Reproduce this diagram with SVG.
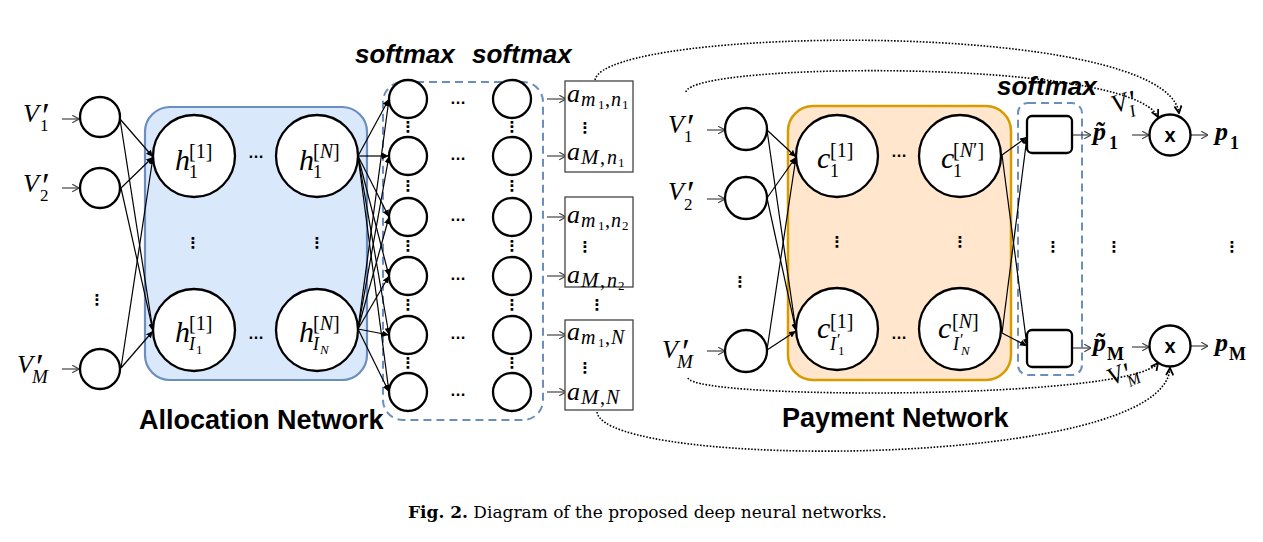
<svg xmlns="http://www.w3.org/2000/svg" width="1263" height="542" viewBox="0 0 1263 542">
<style>
.node{fill:#fff;stroke:#000;stroke-width:2.3}
.sq{fill:#fff;stroke:#000;stroke-width:2.3}
.abox{fill:#fff;stroke:#444;stroke-width:1.3}
.conn{stroke:#000;stroke-width:1.2;fill:none;marker-end:url(#arr)}
.garr{stroke:#444;stroke-width:1.2;fill:none;marker-end:url(#gar)}
.dot{stroke:#000;stroke-width:1.6;stroke-dasharray:1.6 1.6;fill:none;marker-end:url(#dar)}
.dash{fill:none;stroke:#6c8ebf;stroke-width:2;stroke-dasharray:8 5}
.mi{font-family:"Liberation Serif","Times New Roman",serif;font-style:italic}
.mr{font-family:"Liberation Serif","Times New Roman",serif;font-style:normal}
.pr{font-family:"Liberation Serif","Times New Roman",serif;font-style:normal;font-size:36px}
.bi{font-family:"Liberation Serif","Times New Roman",serif;font-style:italic;font-weight:bold}
.br{font-family:"Liberation Serif","Times New Roman",serif;font-style:normal;font-weight:bold}
.lbl{font-family:"Liberation Sans",Arial,sans-serif;font-weight:bold;font-size:27px}
.sm{font-family:"Liberation Sans",Arial,sans-serif;font-weight:bold;font-style:italic;font-size:26px}
.hd{font-family:"Liberation Sans",Arial,sans-serif;font-weight:bold;font-size:16px;text-anchor:middle}
.vd{font-family:"DejaVu Sans",sans-serif;font-weight:bold;font-size:15px;text-anchor:middle}
.mul{font-family:"Liberation Sans",Arial,sans-serif;font-weight:bold;font-size:20px;text-anchor:middle}
</style>
<defs>
<marker id="arr" viewBox="0 0 10 10" refX="10" refY="5" markerWidth="7" markerHeight="7" markerUnits="userSpaceOnUse" orient="auto"><path d="M0,0.5 L10,5 L0,9.5 Z" fill="#000"/></marker>
<marker id="gar" viewBox="0 0 10 10" refX="9.5" refY="5" markerWidth="9" markerHeight="9" markerUnits="userSpaceOnUse" orient="auto"><path d="M2,0.8 L9.5,5 L2,9.2" fill="none" stroke="#444" stroke-width="1.3"/></marker>
<marker id="dar" viewBox="0 0 10 10" refX="9" refY="5" markerWidth="9" markerHeight="9" markerUnits="userSpaceOnUse" orient="auto"><path d="M1,1 L9,5 L1,9" fill="none" stroke="#000" stroke-width="2"/></marker>
</defs>
<rect x="0" y="0" width="1263" height="542" fill="#fff"/>

<!-- containers -->
<g id="allocation-network">
<rect x="145" y="107" width="222" height="273" rx="25" fill="#dae8fc" stroke="#6c8ebf" stroke-width="2.2"/>
<text class="lbl" x="139" y="429">Allocation Network</text>
</g>
<g id="payment-network">
<rect x="788" y="106" width="223" height="274" rx="25" fill="#ffe6cc" stroke="#d79b00" stroke-width="2.5"/>
<text class="lbl" x="782" y="427">Payment Network</text>
</g>
<g id="softmax-alloc">
<rect class="dash" x="383" y="82" width="160" height="338" rx="20"/>
<text class="sm" x="355" y="63">softmax</text>
<text class="sm" x="472" y="63">softmax</text>
</g>
<g id="softmax-pay">
<rect class="dash" x="1018" y="103" width="64" height="272" rx="10"/>
<text class="sm" x="997" y="95">softmax</text>
</g>

<!-- connectors -->
<g id="connectors">
<line class="garr" x1="62" y1="119" x2="79" y2="119"/>
<line class="garr" x1="62" y1="188" x2="79" y2="188"/>
<line class="garr" x1="62" y1="369" x2="79" y2="369"/>
<line class="conn" x1="120" y1="119" x2="153" y2="157"/>
<line class="conn" x1="120" y1="119" x2="153" y2="331"/>
<line class="conn" x1="121" y1="188" x2="153" y2="157"/>
<line class="conn" x1="121" y1="188" x2="153" y2="331"/>
<line class="conn" x1="121" y1="368" x2="153" y2="157"/>
<line class="conn" x1="121" y1="368" x2="153" y2="331"/>
<line class="conn" x1="358" y1="156" x2="389" y2="99"/>
<line class="conn" x1="358" y1="156" x2="389" y2="156"/>
<line class="conn" x1="358" y1="156" x2="389" y2="217"/>
<line class="conn" x1="358" y1="156" x2="389" y2="276"/>
<line class="conn" x1="358" y1="156" x2="389" y2="335"/>
<line class="conn" x1="358" y1="156" x2="389" y2="392"/>
<line class="conn" x1="358" y1="329" x2="389" y2="99"/>
<line class="conn" x1="358" y1="329" x2="389" y2="156"/>
<line class="conn" x1="358" y1="329" x2="389" y2="217"/>
<line class="conn" x1="358" y1="329" x2="389" y2="276"/>
<line class="conn" x1="358" y1="329" x2="389" y2="335"/>
<line class="conn" x1="358" y1="329" x2="389" y2="392"/>
<line class="garr" x1="547" y1="99" x2="566" y2="99"/>
<line class="garr" x1="547" y1="156" x2="566" y2="156"/>
<line class="garr" x1="547" y1="217" x2="566" y2="217"/>
<line class="garr" x1="547" y1="276" x2="566" y2="276"/>
<line class="garr" x1="547" y1="335" x2="566" y2="335"/>
<line class="garr" x1="547" y1="392" x2="566" y2="392"/>
<line class="garr" x1="707" y1="130" x2="725" y2="130"/>
<line class="garr" x1="707" y1="199" x2="725" y2="199"/>
<line class="garr" x1="707" y1="351" x2="725" y2="351"/>
<line class="conn" x1="767" y1="130" x2="796" y2="157"/>
<line class="conn" x1="767" y1="130" x2="796" y2="331"/>
<line class="conn" x1="767" y1="198" x2="796" y2="157"/>
<line class="conn" x1="767" y1="198" x2="796" y2="331"/>
<line class="conn" x1="767" y1="350" x2="796" y2="157"/>
<line class="conn" x1="767" y1="350" x2="796" y2="331"/>
<line class="conn" x1="1002" y1="155" x2="1027" y2="137"/>
<line class="conn" x1="1002" y1="155" x2="1027" y2="346"/>
<line class="conn" x1="1002" y1="333" x2="1027" y2="137"/>
<line class="conn" x1="1002" y1="333" x2="1027" y2="346"/>
<line class="garr" x1="1072" y1="135" x2="1091" y2="135"/>
<line class="garr" x1="1072" y1="348" x2="1091" y2="348"/>
<line class="garr" x1="1132" y1="135" x2="1149" y2="135"/>
<line class="garr" x1="1132" y1="347" x2="1149" y2="347"/>
<line class="garr" x1="1191" y1="135" x2="1208" y2="135"/>
<line class="garr" x1="1191" y1="346" x2="1208" y2="346"/>
<path class="dot" d="M595,80 C605,26 1165,18 1179,113"/>
<path class="dot" d="M686,92 C690,62 1130,58 1158,117"/>
<path class="dot" d="M688,378 C695,400 1130,400 1158,363"/>
<path class="dot" d="M597,412 C605,470 1165,470 1170,368"/>
</g>

<!-- allocation inputs -->
<g id="in-a1">
<circle class="node" cx="100" cy="117" r="20"/>
<text class="mi" font-size="26"><tspan x="23" y="122">V</tspan><tspan x="42" y="128" class="pr">′</tspan><tspan x="40" y="131" class="mr" font-size="17">1</tspan></text>
</g>
<g id="in-a2">
<circle class="node" cx="100" cy="188" r="20"/>
<text class="mi" font-size="26"><tspan x="23" y="192">V</tspan><tspan x="42" y="198" class="pr">′</tspan><tspan x="40" y="201" class="mr" font-size="17">2</tspan></text>
</g>
<text class="vd" x="97" y="305">⋮</text>
<g id="in-aM">
<circle class="node" cx="100" cy="369" r="20"/>
<text class="mi" font-size="26"><tspan x="17" y="373">V</tspan><tspan x="36" y="379" class="pr">′</tspan><tspan x="32" y="383" font-size="19">M</tspan></text>
</g>

<!-- hidden allocation nodes -->
<g id="h-1-1">
<circle class="node" cx="194" cy="156" r="41"/>
<text class="mr"><tspan class="mi" x="175" y="170" font-size="30">h</tspan><tspan x="189" y="158" font-size="20">[1]</tspan><tspan x="189" y="178" font-size="18">1</tspan></text>
</g>
<g id="h-1-N">
<circle class="node" cx="317" cy="156" r="41"/>
<text class="mr"><tspan class="mi" x="299" y="170" font-size="30">h</tspan><tspan x="313" y="158" font-size="20">[<tspan class="mi">N</tspan>]</tspan><tspan x="313" y="178" font-size="18">1</tspan></text>
</g>
<g id="h-I-1">
<circle class="node" cx="194" cy="330" r="41"/>
<text class="mr"><tspan class="mi" x="175" y="342" font-size="30">h</tspan><tspan x="189" y="330" font-size="20">[1]</tspan><tspan class="mi" x="189" y="350" font-size="18">I</tspan><tspan x="196" y="354" font-size="13">1</tspan></text>
</g>
<g id="h-I-N">
<circle class="node" cx="317" cy="330" r="41"/>
<text class="mr"><tspan class="mi" x="299" y="342" font-size="30">h</tspan><tspan x="313" y="330" font-size="20">[<tspan class="mi">N</tspan>]</tspan><tspan class="mi" x="313" y="350" font-size="18">I</tspan><tspan class="mi" x="320" y="354" font-size="13">N</tspan></text>
</g>
<text class="hd" x="256" y="158">…</text>
<text class="hd" x="256" y="339">…</text>
<text class="vd" x="193" y="248">⋮</text>
<text class="vd" x="317" y="248">⋮</text>

<!-- softmax columns -->
<g id="sm-col1">
<circle class="node" cx="408" cy="99" r="19"/>
<circle class="node" cx="408" cy="156" r="19"/>
<circle class="node" cx="408" cy="217" r="19"/>
<circle class="node" cx="408" cy="276" r="19"/>
<circle class="node" cx="408" cy="335" r="19"/>
<circle class="node" cx="408" cy="392" r="19"/>
<text class="vd" x="408" y="132">⋮</text>
<text class="vd" x="408" y="191">⋮</text>
<text class="vd" x="408" y="251">⋮</text>
<text class="vd" x="408" y="310">⋮</text>
<text class="vd" x="408" y="368">⋮</text>
</g>
<g id="sm-col2">
<circle class="node" cx="512" cy="99" r="19"/>
<circle class="node" cx="512" cy="156" r="19"/>
<circle class="node" cx="512" cy="217" r="19"/>
<circle class="node" cx="512" cy="276" r="19"/>
<circle class="node" cx="512" cy="335" r="19"/>
<circle class="node" cx="512" cy="392" r="19"/>
<text class="vd" x="512" y="132">⋮</text>
<text class="vd" x="512" y="191">⋮</text>
<text class="vd" x="512" y="251">⋮</text>
<text class="vd" x="512" y="310">⋮</text>
<text class="vd" x="512" y="368">⋮</text>
</g>
<g id="sm-dots">
<text class="hd" x="458" y="104">…</text>
<text class="hd" x="458" y="160">…</text>
<text class="hd" x="458" y="221">…</text>
<text class="hd" x="458" y="280">…</text>
<text class="hd" x="458" y="339">…</text>
<text class="hd" x="458" y="396">…</text>
</g>

<!-- allocation output boxes -->
<g id="out-n1">
<rect class="abox" x="565" y="81" width="68" height="91"/>
<text class="mi"><tspan x="567" y="102" font-size="26">a</tspan><tspan x="581" y="106" font-size="20">m</tspan><tspan class="mr" x="598" y="109" font-size="13">1</tspan><tspan class="mr" x="605" y="106" font-size="20">,</tspan><tspan x="611" y="106" font-size="20">n</tspan><tspan class="mr" x="622" y="109" font-size="13">1</tspan></text>
<text class="vd" x="585" y="133">⋮</text>
<text class="mi"><tspan x="567" y="160" font-size="26">a</tspan><tspan x="581" y="164" font-size="21">M</tspan><tspan class="mr" x="600" y="164" font-size="20">,</tspan><tspan x="607" y="164" font-size="20">n</tspan><tspan class="mr" x="618" y="167" font-size="13">1</tspan></text>
</g>
<g id="out-n2">
<rect class="abox" x="565" y="197" width="68" height="90"/>
<text class="mi"><tspan x="567" y="223" font-size="26">a</tspan><tspan x="581" y="227" font-size="20">m</tspan><tspan class="mr" x="598" y="230" font-size="13">1</tspan><tspan class="mr" x="605" y="227" font-size="20">,</tspan><tspan x="611" y="227" font-size="20">n</tspan><tspan class="mr" x="622" y="230" font-size="13">2</tspan></text>
<text class="vd" x="585" y="252">⋮</text>
<text class="mi"><tspan x="567" y="283" font-size="26">a</tspan><tspan x="581" y="287" font-size="21">M</tspan><tspan class="mr" x="600" y="287" font-size="20">,</tspan><tspan x="607" y="287" font-size="20">n</tspan><tspan class="mr" x="618" y="290" font-size="13">2</tspan></text>
</g>
<text class="vd" x="597" y="310">⋮</text>
<g id="out-N">
<rect class="abox" x="565" y="320" width="68" height="90"/>
<text class="mi"><tspan x="567" y="340" font-size="26">a</tspan><tspan x="581" y="344" font-size="20">m</tspan><tspan class="mr" x="598" y="347" font-size="13">1</tspan><tspan class="mr" x="605" y="344" font-size="20">,</tspan><tspan x="611" y="344" font-size="20">N</tspan></text>
<text class="vd" x="585" y="373">⋮</text>
<text class="mi"><tspan x="567" y="400" font-size="26">a</tspan><tspan x="581" y="404" font-size="21">M</tspan><tspan class="mr" x="600" y="404" font-size="20">,</tspan><tspan x="606" y="404" font-size="20">N</tspan></text>
</g>

<!-- payment inputs -->
<g id="in-p1">
<circle class="node" cx="746" cy="129" r="21"/>
<text class="mi" font-size="26"><tspan x="668" y="133">V</tspan><tspan x="687" y="139" class="pr">′</tspan><tspan x="684" y="142" class="mr" font-size="17">1</tspan></text>
</g>
<g id="in-p2">
<circle class="node" cx="746" cy="198" r="21"/>
<text class="mi" font-size="26"><tspan x="668" y="200">V</tspan><tspan x="687" y="206" class="pr">′</tspan><tspan x="684" y="210" class="mr" font-size="17">2</tspan></text>
</g>
<text class="vd" x="740" y="287">⋮</text>
<g id="in-pM">
<circle class="node" cx="746" cy="351" r="21"/>
<text class="mi" font-size="26"><tspan x="662" y="358">V</tspan><tspan x="682" y="364" class="pr">′</tspan><tspan x="677" y="368" font-size="19">M</tspan></text>
</g>

<!-- payment hidden nodes -->
<g id="c-1-1">
<circle class="node" cx="837" cy="156" r="41"/>
<text class="mr"><tspan class="mi" x="817" y="168" font-size="30">c</tspan><tspan x="830" y="157" font-size="20">[1]</tspan><tspan x="830" y="177" font-size="18">1</tspan></text>
</g>
<g id="c-1-N">
<circle class="node" cx="960" cy="156" r="41"/>
<text class="mr"><tspan class="mi" x="941" y="168" font-size="30">c</tspan><tspan x="953" y="157" font-size="20">[<tspan class="mi">N</tspan>′]</tspan><tspan x="953" y="177" font-size="18">1</tspan></text>
</g>
<g id="c-I-1">
<circle class="node" cx="837" cy="329" r="41"/>
<text class="mr"><tspan class="mi" x="817" y="338" font-size="30">c</tspan><tspan x="830" y="328" font-size="20">[1]</tspan><tspan class="mi" x="830" y="350" font-size="18">I</tspan><tspan x="837" y="345" font-size="16">′</tspan><tspan x="838" y="355" font-size="13">1</tspan></text>
</g>
<g id="c-I-N">
<circle class="node" cx="960" cy="329" r="41"/>
<text class="mr"><tspan class="mi" x="938" y="338" font-size="30">c</tspan><tspan x="952" y="328" font-size="20">[<tspan class="mi">N</tspan>]</tspan><tspan class="mi" x="953" y="350" font-size="18">I</tspan><tspan x="960" y="345" font-size="16">′</tspan><tspan class="mi" x="961" y="355" font-size="13">N</tspan></text>
</g>
<text class="hd" x="899" y="157">…</text>
<text class="hd" x="899" y="339">…</text>
<text class="vd" x="837" y="247">⋮</text>
<text class="vd" x="960" y="247">⋮</text>

<!-- payment softmax boxes -->
<g id="pt-1">
<rect class="sq" x="1027" y="116" width="45" height="37" rx="5"/>
<text class="bi" x="1093" y="140" font-size="26">p̃</text><text class="br" x="1109" y="149" font-size="18">1</text>
</g>
<g id="pt-M">
<rect class="sq" x="1027" y="330" width="45" height="37" rx="5"/>
<text class="bi" x="1093" y="351" font-size="26">p̃</text><text class="br" x="1107" y="360" font-size="18">M</text>
</g>
<text class="vd" x="1053" y="252">⋮</text>
<text class="vd" x="1114" y="252">⋮</text>
<text class="vd" x="1232" y="252">⋮</text>

<!-- multiply nodes -->
<g id="mul-1">
<circle class="node" cx="1170" cy="135" r="20.5"/>
<text class="mul" x="1170" y="142">x</text>
<text class="mi" transform="rotate(-18 1125 110)"><tspan x="1114" y="110" font-size="26">V</tspan><tspan class="mr" x="1133" y="115" font-size="32">′</tspan><tspan x="1129" y="119" font-size="17">I</tspan></text>
</g>
<g id="p-1">
<text class="bi" x="1215" y="140" font-size="26">p</text><text class="br" x="1230" y="149" font-size="18">1</text>
</g>
<g id="mul-M">
<circle class="node" cx="1170" cy="346" r="20.5"/>
<text class="mul" x="1170" y="353">x</text>
<text class="mi" transform="rotate(-25 1125 372)"><tspan x="1107" y="379" font-size="25">V</tspan><tspan class="mr" x="1125" y="384" font-size="30">′</tspan><tspan x="1123" y="388" font-size="16">M</tspan></text>
</g>
<g id="p-M">
<text class="bi" x="1215" y="351" font-size="26">p</text><text class="br" x="1229" y="360" font-size="18">M</text>
</g>

<!-- caption -->
<text x="408" y="518" font-family="DejaVu Serif, serif" font-size="17" textLength="479" lengthAdjust="spacing"><tspan font-weight="bold">Fig. 2.</tspan>  Diagram of the proposed deep neural networks.</text>
</svg>
